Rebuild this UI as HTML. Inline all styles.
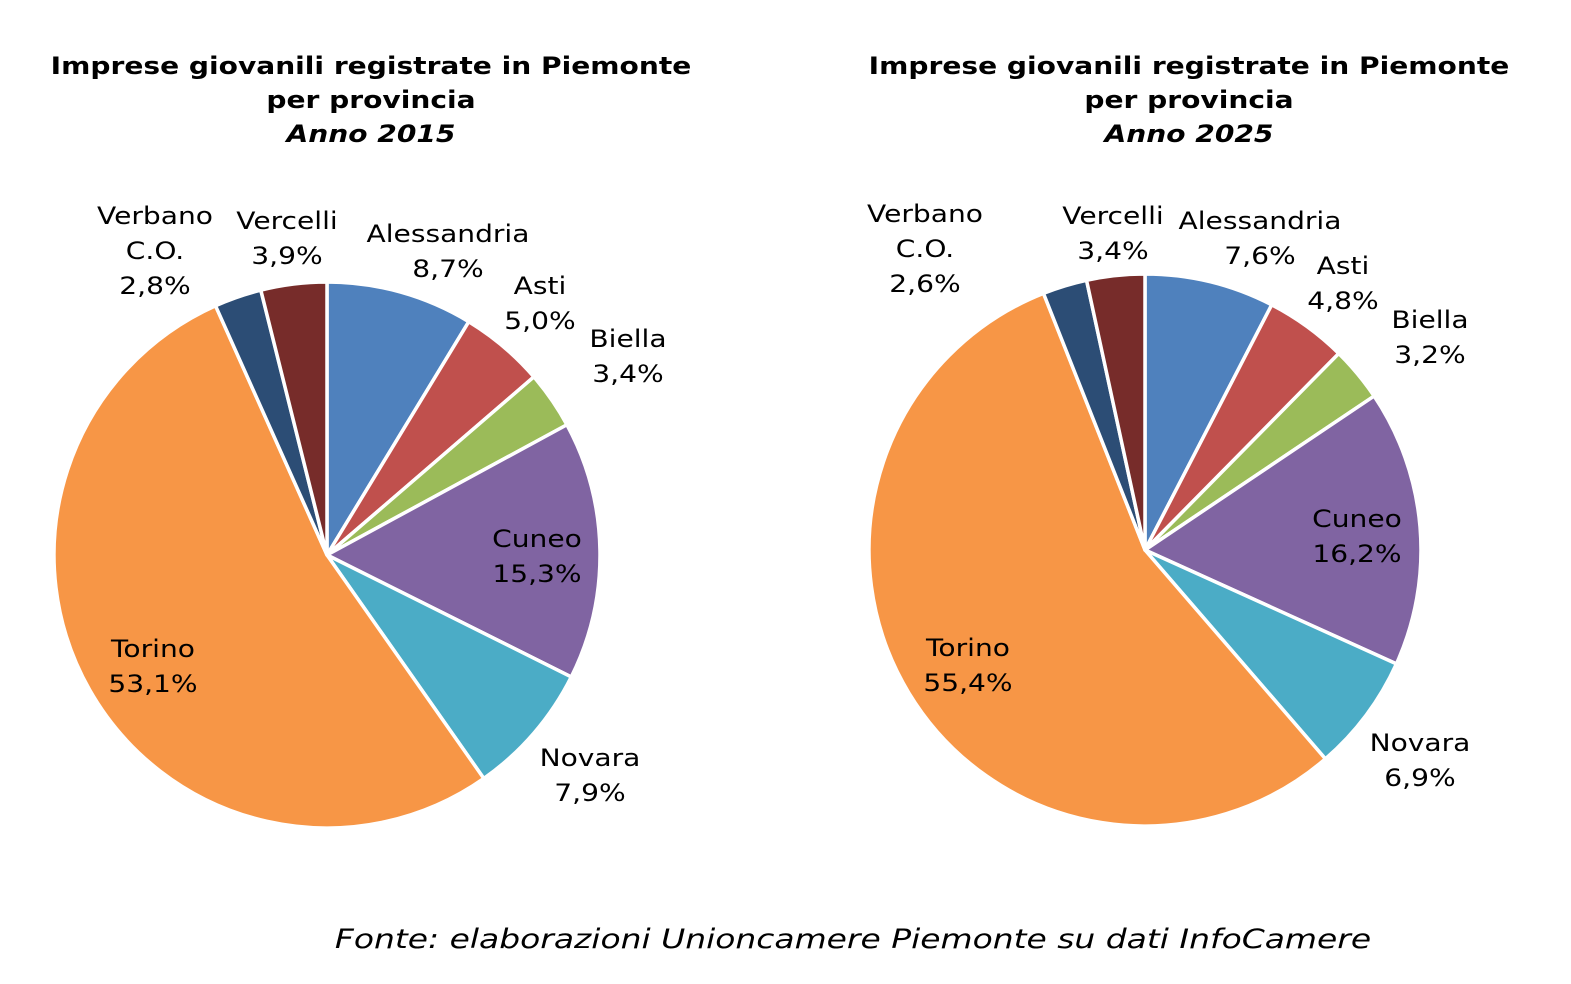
<!DOCTYPE html>
<html><head><meta charset="utf-8">
<style>
html,body{margin:0;padding:0;background:#fff;}
body{width:1571px;height:984px;overflow:hidden;position:relative;font-family:"DejaVu Sans","Liberation Sans",sans-serif;}
svg{position:absolute;left:0;top:0;}
</style></head>
<body>
<svg id="chart" width="1571" height="984"></svg>
<script>
const categories = ["Alessandria","Asti","Biella","Cuneo","Novara","Torino","Verbano\nC.O.","Vercelli"];
const colors = ["#4F81BD","#C0504D","#9BBB59","#8064A2","#4BACC6","#F79646","#2C4D75","#772C2A"];
const values2015 = [8.7,5.0,3.4,15.3,7.9,53.1,2.8,3.9];
const values2025 = [7.6,4.8,3.2,16.2,6.9,55.4,2.6,3.4];
const years = ["2015","2025"];
// layout (not data): label centers
const layout2015 = {cx:327,cy:555,r:273,tx:371,labels:[[448,233],[540,285],[628,338],[537,538],[590,757],[153,648],[155,215],[287,220]]};
const layout2025 = {cx:1145,cy:550,r:276,tx:1189,labels:[[1260,220],[1343,265],[1430,319],[1357,518],[1420,742],[968,647],[925,213],[1113,215]]};

const NS="http://www.w3.org/2000/svg";
const svg=document.getElementById('chart');
function mk(tag,attrs,parent){const e=document.createElementNS(NS,tag);for(const k in attrs)e.setAttribute(k,attrs[k]);(parent||svg).appendChild(e);return e;}
function fmt(v){return v.toFixed(1).replace('.',',')+'%';}
function stretch(el,f){const l=el.getComputedTextLength();el.setAttribute('textLength',(l*f).toFixed(1));el.setAttribute('lengthAdjust','spacingAndGlyphs');}

function drawPie(values,L,year){
  const g=mk('g',{});
  
  
  const titles=[["Imprese giovanili registrate in Piemonte","bold","normal"],["per provincia","bold","normal"],["Anno "+year,"bold","italic"]];
  titles.forEach((t,i)=>{
    const tx=mk('text',{x:L.tx,y:74+i*34,'text-anchor':'middle','font-size':'24','font-weight':t[1],'font-style':t[2],fill:'#000'},g);
    
    
    tx.textContent=t[0];
    stretch(tx,1.17);
  });
  const total=values.reduce((a,b)=>a+b,0);
  let acc=0;
  values.forEach((v,i)=>{
    const a0=acc/total*2*Math.PI; acc+=v; const a1=acc/total*2*Math.PI;
    const x0=L.cx+L.r*Math.sin(a0),y0=L.cy-L.r*Math.cos(a0);
    const x1=L.cx+L.r*Math.sin(a1),y1=L.cy-L.r*Math.cos(a1);
    const large=(a1-a0)>Math.PI?1:0;
    const p=mk('path',{d:`M${L.cx},${L.cy}L${x0},${y0}A${L.r},${L.r} 0 ${large} 1 ${x1},${y1}Z`,fill:colors[i],stroke:'#fff','stroke-width':'3.5','stroke-linejoin':'round'},g);
    
    
  });
  values.forEach((v,i)=>{
    const lines=categories[i].split('\n').concat([fmt(v)]);
    const [lx,ly]=L.labels[i];
    lines.forEach((s,j)=>{
      const t=mk('text',{x:lx,y:ly+9+j*35,'text-anchor':'middle','font-size':'24',fill:'#000'},g);
      
      
      t.textContent=s;
      stretch(t,1.17);
    });
  });
}
drawPie(values2015,layout2015,years[0]);
drawPie(values2025,layout2025,years[1]);
const f=mk('text',{x:853,y:948,'text-anchor':'middle','font-size':'27','font-style':'italic',fill:'#000'});


f.textContent="Fonte: elaborazioni Unioncamere Piemonte su dati InfoCamere";
stretch(f,1.22);
</script>
</body></html>
